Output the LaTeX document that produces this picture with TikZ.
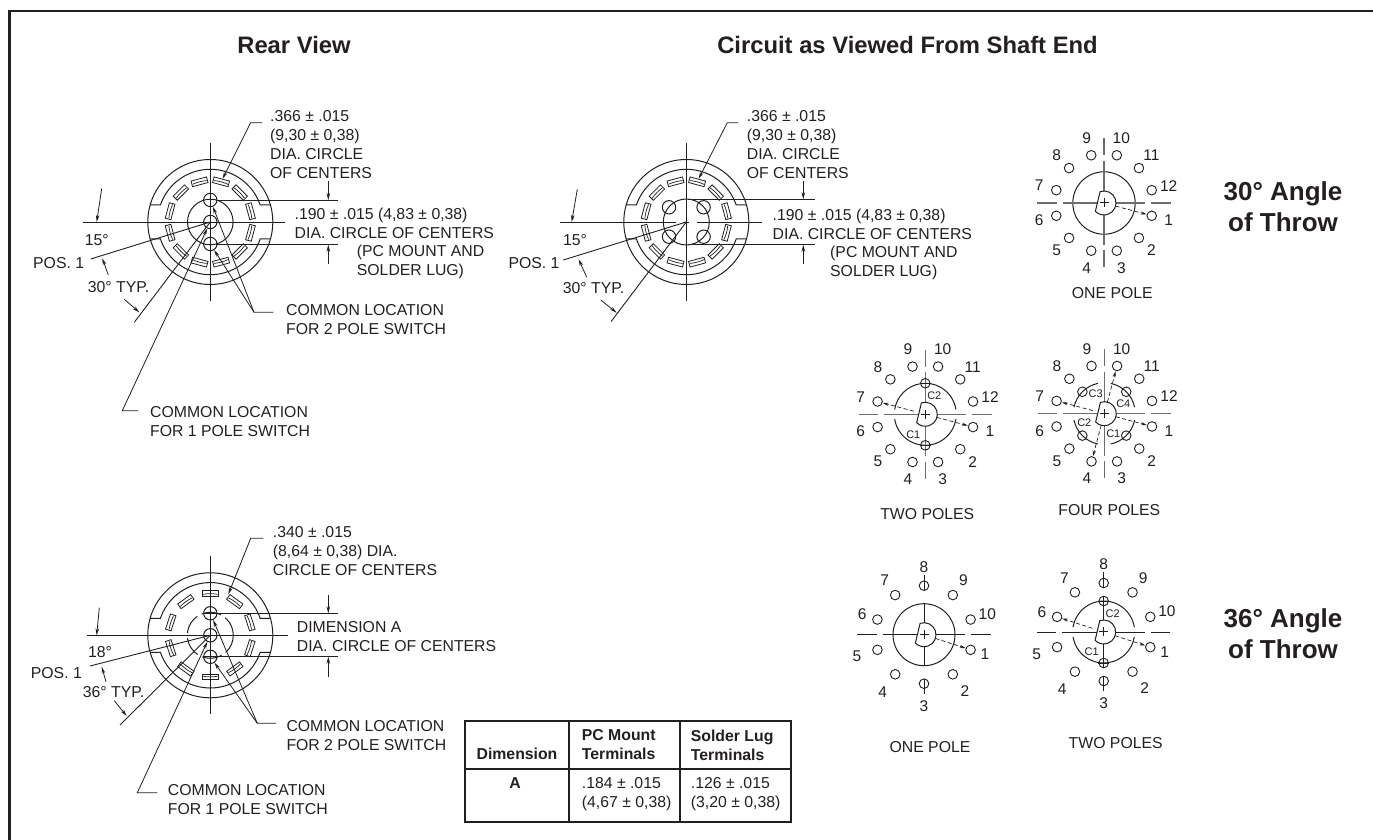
\documentclass[tikz,border=0pt]{standalone}
\usepackage{fontspec}
\setmainfont{Liberation Sans}
\usetikzlibrary{arrows.meta, positioning, calc}
\definecolor{inkdark}{RGB}{35, 31, 32}
\definecolor{axisgray}{RGB}{110, 108, 108}
\newcommand{\notefont}{\fontsize{15.8}{19}\selectfont}

% terminal ring of a rear view: prefix, angles
\newcommand{\rearshell}[2]{
    \draw[body] (0,0) circle[radius=62.5];
    \draw[body] (60.1,17) -- (49.9,17) arc[start angle=18.8, end angle=161.2, radius=52.7] -- (-60.1,17);
    \draw[body] (60.1,-17) -- (49.9,-17) arc[start angle=-18.8, end angle=-161.2, radius=52.7] -- (-60.1,-17);
    \foreach \a in {#2}{
        \node[tabbox, rotate=\a-90] (#1\a) at (\a:41.6) {};
        \draw[thinline] (\a-10:41.6) arc[start angle=\a-10, end angle=\a+10, radius=41.6];
    }
}
% switch body of a circuit view: axis style, inner length, stem start, stem end
\newcommand{\crossaxes}[4]{
    \draw[#1] (-66.7,0) -- (-47.3,0);
    \draw[#1] (-41.3,0) -- (41,0);
    \draw[#1] (47,0) -- (66.7,0);
    \draw[#1] (0,#4) -- (0,#3);
    \draw[#1] (0,#2) -- (0,-#2);
    \draw[#1] (0,-#3) -- (0,-#4);
}
\newcommand{\camshaft}[1]{
    \draw[body, fill=white] (109:12) arc[start angle=109, end angle=-136, radius=12] -- cycle;
    \draw[body] (-4.5,0) -- (4.5,0);
    \draw[body] (0,-4.5) -- (0,4.5);
    \coordinate (#1s) at (0,0);
}
\newcommand{\pinstwelve}[1]{
    \foreach \n in {1,...,12}{
        \pgfmathsetmacro{\a}{-15-30*(\n-1)}
        \node[pinhole] (#1\n) at (\a:49.4) {};
        \node[pinnum] (#1n\n) at (\a:67) {\n};
    }
}
\newcommand{\pinsten}[1]{
    \foreach \n/\r in {1/64,2/69.5,3/71,4/70.5,5/70.5,6/65,7/67,8/67.5,9/67,10/66.5}{
        \pgfmathsetmacro{\a}{-18-36*(\n-1)}
        \node[pinhole] (#1\n) at (\a:49) {};
        \node[pinnum] (#1n\n) at (\a:\r) {\n};
    }
}

\begin{document}
\begin{tikzpicture}[
        x=1pt, y=1pt,
        color=inkdark,
        body/.style={line width=1pt},
        thinline/.style={line width=0.7pt},
        axisline/.style={line width=0.9pt},
        grayaxis/.style={line width=1.2pt, draw=axisgray},
        dimarrow/.style={-{Stealth[length=7pt, width=3.6pt]}, line width=0.8pt},
        wiper/.style={-{Stealth[length=6pt, width=3.2pt]}, line width=0.7pt, dash pattern=on 4pt off 2.5pt, shorten <=12pt},
        tabbox/.style={rectangle, draw, line width=0.8pt, minimum width=16pt, minimum height=5.8pt, inner sep=0pt},
        pinhole/.style={circle, draw, line width=0.9pt, minimum size=9.6pt, inner sep=0pt},
        postpin/.style={circle, draw, line width=1pt, minimum size=13.4pt, inner sep=0pt},
        pinnum/.style={font=\fontsize{15.5}{18}\selectfont, inner sep=0pt},
        smalltext/.style={font=\fontsize{11}{13}\selectfont, inner sep=0pt},
        notetext/.style={font=\notefont, inner sep=0pt, anchor=west, align=left},
        headtext/.style={font=\fontsize{23.8}{28}\selectfont\bfseries, inner sep=0pt},
        bigtext/.style={font=\fontsize{26}{31}\selectfont\bfseries, inner sep=0pt, align=center},
        captext/.style={font=\notefont, inner sep=0pt},
        celltext/.style={font=\notefont, inner sep=0pt, anchor=west, align=left},
        boldcell/.style={font=\notefont\bfseries, inner sep=0pt, align=left}
    ]
    \useasboundingbox (0,0) rectangle (1373,840);

    % Frame
    \draw[line width=2.3pt] (9.5,0) -- (9.5,829) -- (1373,829);

    % Titles
    \node[headtext] (rearTitle) at (294,795) {Rear View};
    \node[headtext] (circuitTitle) at (907.5,795) {Circuit as Viewed From Shaft End};
    \node[bigtext] (throwA) at (1283,633.5) {30° Angle\\of Throw};
    \node[bigtext] (throwB) at (1283,206) {36° Angle\\of Throw};

    % Rear view, 30 degrees
    \begin{scope}[shift={(210.3,618)}]
        \draw[axisline] (-127.3,0) -- (74.7,0);
        \draw[axisline] (0,79) -- (0,-78.7);
        \rearshell{ra}{15,45,...,345}
        \draw[body] (0,0) circle[radius=22.8];
        \node[postpin] (ra0) at (0,0) {};
        \node[postpin] (raUp) at (0,22) {};
        \node[postpin] (raDn) at (0,-22) {};
        \draw[axisline] (ra0.west) -- (ra0.east);
        % dimension lines
        \draw[axisline] (7.7,22) -- (128,22);
        \draw[axisline] (6,-22.7) -- (128,-22.7);
        \draw[dimarrow] (118,41.3) -- (118,22);
        \draw[dimarrow] (118,-42) -- (118,-22.7);
        \coordinate (raPos) at (-119.6,-37);
        \coordinate (raTyp) at (-76,-100.3);
        \draw[axisline] (0,0) -- (raPos);
        \draw[axisline] (0,0) -- (raTyp);
        \draw[dimarrow] (-108.6,33.3) -- (-113.6,0);
        \draw[dimarrow] (-102,-53) -- (-108,-36.3);
        \draw[dimarrow] (-86,-77.3) -- (-71,-90.3);
        % leaders
        \coordinate (raTailA) at (52,99.3);
        \coordinate (raKneeA) at (40.4,99.3);
        \draw[dimarrow] (raTailA) -- (raKneeA) -- (ra75);
        \coordinate (raTailB) at (63,-90.3);
        \coordinate (raKneeB) at (43.7,-90.3);
        \draw[dimarrow] (raTailB) -- (raKneeB) -- (raUp);
        \draw[dimarrow] (raKneeB) -- (raDn);
        \coordinate (raTailC) at (-72,-188.7);
        \coordinate (raKneeC) at (-88,-188.7);
        \draw[dimarrow] (raTailC) -- (raKneeC) -- (ra0);
        % labels
        \node[notetext] (raDia) at (59.7,77) {.366 ± .015\\(9,30 ± 0,38)\\DIA. CIRCLE\\OF CENTERS};
        \node[notetext] (raCen) at (84.2,-1) {.190 ± .015 (4,83 ± 0,38)\\DIA. CIRCLE OF CENTERS};
        \node[notetext] (raMnt) at (146.4,-40) {(PC MOUNT AND\\SOLDER LUG)};
        \node[notetext] (raTwo) at (75.7,-98) {COMMON LOCATION\\FOR 2 POLE SWITCH};
        \node[notetext] (raOne) at (-60.3,-199.5) {COMMON LOCATION\\FOR 1 POLE SWITCH};
        \node[captext] (raDeg) at (-113.6,-18) {15°};
        \node[notetext] (raPosText) at (-177.3,-41.3) {POS. 1};
        \node[notetext] (raTypText) at (-122.6,-65) {30° TYP.};
    \end{scope}

    % Circuit outline, 30 degrees
    \begin{scope}[shift={(686.3,618)}]
        \draw[axisline] (-126.3,0) -- (-10.3,0);
        \draw[axisline] (10.4,0) -- (75.4,0);
        \draw[axisline] (-3,0) -- (3,0);
        \draw[axisline] (0,79) -- (0,-78.7);
        \rearshell{rb}{15,45,...,345}
        \draw[body] (0,0) circle[radius=23];
        \node[postpin] (rb1) at (17.3,14.7) {};
        \node[postpin] (rb2) at (-17.3,14.7) {};
        \node[postpin] (rb3) at (-17.3,-14.7) {};
        \node[postpin] (rb4) at (17.3,-14.7) {};
        % dimension lines
        \draw[axisline] (2,22.8) -- (128.7,22.8);
        \draw[axisline] (2,-22.8) -- (128.7,-22.8);
        \draw[dimarrow] (117,41.3) -- (117,22.8);
        \draw[dimarrow] (117,-42) -- (117,-22.8);
        \coordinate (rbPos) at (-123,-38);
        \coordinate (rbTyp) at (-75.3,-99.7);
        \draw[axisline] (0,0) -- (rbPos);
        \draw[axisline] (0,0) -- (rbTyp);
        \draw[dimarrow] (-109,32.7) -- (-114.6,0);
        \draw[dimarrow] (-99.6,-55.3) -- (-107.6,-37.3);
        \draw[dimarrow] (-85.6,-78) -- (-69.6,-90.7);
        % leader
        \coordinate (rbTail) at (52,99.3);
        \coordinate (rbKnee) at (41,99.3);
        \draw[dimarrow] (rbTail) -- (rbKnee) -- (rb75);
        % labels
        \node[notetext] (rbDia) at (60.4,77) {.366 ± .015\\(9,30 ± 0,38)\\DIA. CIRCLE\\OF CENTERS};
        \node[notetext] (rbCen) at (86.2,-2.5) {.190 ± .015 (4,83 ± 0,38)\\DIA. CIRCLE OF CENTERS};
        \node[notetext] (rbMnt) at (143.7,-40.8) {(PC MOUNT AND\\SOLDER LUG)};
        \node[captext] (rbDeg) at (-111.3,-18) {15°};
        \node[notetext] (rbPosText) at (-178,-41.3) {POS. 1};
        \node[notetext] (rbTypText) at (-123.6,-66) {30° TYP.};
    \end{scope}

    % Rear view, 36 degrees
    \begin{scope}[shift={(210.3,204.7)}]
        \draw[axisline] (-123,0) -- (77.4,0);
        \draw[axisline] (0,79.3) -- (0,-78.7);
        \rearshell{rc}{18,54,...,342}
        \draw[body, dash pattern=on 20pt off 5pt] (0,0) circle[radius=23];
        \node[postpin] (rc0) at (0,0) {};
        \node[postpin] (rcUp) at (0,22) {};
        \node[postpin] (rcDn) at (0,-21.5) {};
        \draw[axisline] (rc0.west) -- (rc0.east);
        \draw[axisline] (rcUp.west) -- (rcUp.east);
        \draw[axisline] (rcDn.west) -- (rcDn.east);
        % dimension lines
        \draw[axisline] (rcUp.east) -- (127.4,22);
        \draw[axisline] (rcDn.east) -- (127.4,-21.5);
        \draw[dimarrow] (118,40.3) -- (118,22);
        \draw[dimarrow] (118,-41.4) -- (118,-21.5);
        \coordinate (rcPos) at (-120.3,-30.7);
        \coordinate (rcTyp) at (-90.3,-89.7);
        \draw[axisline] (0,0) -- (rcPos);
        \draw[axisline] (0,0) -- (rcTyp);
        \draw[dimarrow] (-111,27.6) -- (-113.6,0);
        \draw[dimarrow] (-104.3,-46.4) -- (-108.6,-31.4);
        \draw[dimarrow] (-96,-65.4) -- (-83.6,-80.7);
        % leaders
        \coordinate (rcTailA) at (53,97);
        \coordinate (rcKneeA) at (40.4,97);
        \coordinate (rcTipA) at (18,41);
        \draw[dimarrow] (rcTailA) -- (rcKneeA) -- (rcTipA);
        \coordinate (rcTailB) at (65.7,-88);
        \coordinate (rcKneeB) at (47,-88);
        \draw[dimarrow] (rcTailB) -- (rcKneeB) -- (rcUp);
        \draw[dimarrow] (rcKneeB) -- (rcDn);
        \coordinate (rcTailC) at (-53,-157.4);
        \coordinate (rcKneeC) at (-73,-157.4);
        \draw[dimarrow] (rcTailC) -- (rcKneeC) -- (rc0);
        % labels
        \node[notetext] (rcDia) at (62.4,84.3) {.340 ± .015\\(8,64 ± 0,38) DIA.\\CIRCLE OF CENTERS};
        \node[notetext] (rcCen) at (86.4,-1) {DIMENSION A\\DIA. CIRCLE OF CENTERS};
        \node[notetext] (rcTwo) at (76,-100.4) {COMMON LOCATION\\FOR 2 POLE SWITCH};
        \node[notetext] (rcOne) at (-42.6,-164.7) {COMMON LOCATION\\FOR 1 POLE SWITCH};
        \node[captext] (rcDeg) at (-110.3,-17) {18°};
        \node[notetext] (rcPosText) at (-179.6,-38) {POS. 1};
        \node[notetext] (rcTypText) at (-127.6,-56.4) {36° TYP.};
    \end{scope}

    % Dimension table
    \draw[line width=1.2pt] (465,119) rectangle (791,18);
    \draw[line width=1.2pt] (465,71) -- (791,71);
    \draw[line width=1.2pt] (569,119) -- (569,18);
    \draw[line width=1.2pt] (680,119) -- (680,18);
    \node[boldcell] (dimHead) at (517,86) {Dimension};
    \node[boldcell, anchor=west] (pcHead) at (581.7,95) {PC Mount\\Terminals};
    \node[boldcell, anchor=west] (lugHead) at (690.7,95) {Solder Lug\\Terminals};
    \node[boldcell] (dimA) at (515,57) {A};
    \node[celltext] (pcVal) at (581.7,46.2) {.184 ± .015\\(4,67 ± 0,38)};
    \node[celltext] (lugVal) at (690.7,46.2) {.126 ± .015\\(3,20 ± 0,38)};

    % 30 degrees, one pole
    \begin{scope}[shift={(1104,637)}]
        \draw[body] (0,0) circle[radius=31.2];
        \crossaxes{grayaxis}{42}{47.5}{64.5}
        \pinstwelve{a}
        \camshaft{a}
        \draw[wiper] (as) -- (a1);
    \end{scope}
    \node[captext] (capA) at (1112.3,546.7) {ONE POLE};

    % 30 degrees, two poles
    \begin{scope}[shift={(925.3,425.7)}]
        \draw[body] (9:31) arc[start angle=9, end angle=171, radius=31];
        \draw[body] (189:31) arc[start angle=189, end angle=351, radius=31];
        \crossaxes{grayaxis}{42}{47.5}{64.5}
        \pinstwelve{b}
        \node[pinhole] (bUp) at (0,31) {};
        \node[pinhole] (bDn) at (0,-31) {};
        \draw[axisline] (bUp.west) -- (bUp.east);
        \draw[axisline] (bDn.west) -- (bDn.east);
        \camshaft{b}
        \draw[wiper] (bs) -- (b1);
        \draw[wiper] (bs) -- (b7);
        \node[smalltext] (bC2) at (9,18.7) {C2};
        \node[smalltext] (bC1) at (-12,-20) {C1};
    \end{scope}
    \node[captext] (capB) at (927.3,326) {TWO POLES};

    % 30 degrees, four poles
    \begin{scope}[shift={(1104.3,426.3)}]
        \foreach \a in {12,102,192,282}{
            \draw[body] (\a:31) arc[start angle=\a, end angle=\a+66, radius=31];
        }
        \crossaxes{grayaxis}{42}{47.5}{64.5}
        \pinstwelve{c}
        \foreach \a in {45,135,225,315}{
            \node[pinhole] (cp\a) at (\a:31) {};
        }
        \camshaft{c}
        \draw[wiper] (cs) -- (c1);
        \draw[wiper] (cs) -- (c4);
        \draw[wiper] (cs) -- (c7);
        \draw[wiper] (cs) -- (c10);
        \node[smalltext] (cC3) at (-8.7,20.3) {C3};
        \node[smalltext] (cC4) at (19,9.7) {C4};
        \node[smalltext] (cC2) at (-20,-9) {C2};
        \node[smalltext] (cC1) at (9,-19.7) {C1};
    \end{scope}
    \node[captext] (capC) at (1109.3,330) {FOUR POLES};

    % 36 degrees, one pole
    \begin{scope}[shift={(924,205.3)}]
        \draw[body] (0,0) circle[radius=31];
        \crossaxes{axisline}{31.5}{44.3}{59.5}
        \pinsten{d}
        \camshaft{d}
        \draw[wiper] (ds) -- (d1);
    \end{scope}
    \node[captext] (capD) at (930,93.3) {ONE POLE};

    % 36 degrees, two poles
    \begin{scope}[shift={(1103.7,208)}]
        \draw[body] (9:31) arc[start angle=9, end angle=171, radius=31];
        \draw[body] (189:31) arc[start angle=189, end angle=351, radius=31];
        \crossaxes{axisline}{36}{44.3}{59.5}
        \pinsten{e}
        \node[pinhole] (eUp) at (0,31) {};
        \node[pinhole] (eDn) at (0,-31) {};
        \draw[axisline] (eUp.west) -- (eUp.east);
        \draw[axisline] (eDn.west) -- (eDn.east);
        \camshaft{e}
        \draw[wiper] (es) -- (e1);
        \draw[wiper] (es) -- (e6);
        \node[smalltext] (eC2) at (9,18) {C2};
        \node[smalltext] (eC1) at (-12,-19.7) {C1};
    \end{scope}
    \node[captext] (capE) at (1115.7,96.7) {TWO POLES};
\end{tikzpicture}
\end{document}
